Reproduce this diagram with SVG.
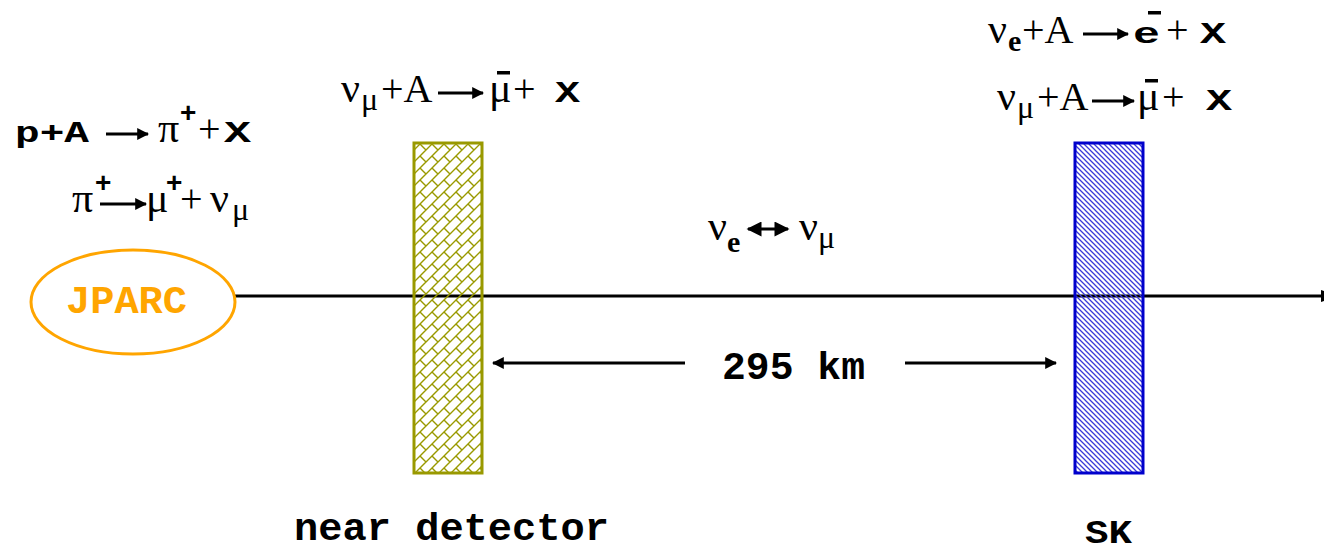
<svg xmlns="http://www.w3.org/2000/svg" width="1324" height="553" viewBox="0 0 1324 553">
<style>
.m{font-family:"Liberation Mono","Courier New",monospace;font-weight:bold;fill:#000}
.s{font-family:"Liberation Serif","Times New Roman",serif;fill:#000}
.pl{font-family:"Liberation Serif","Times New Roman",serif;fill:#000;font-size:40px}
.g{font-family:"Liberation Serif","Times New Roman",serif;fill:#000;font-size:42px}
.sub{font-family:"Liberation Serif","Times New Roman",serif;fill:#000;font-size:32px}
.sp{font-family:"Liberation Sans",Arial,sans-serif;font-weight:bold;fill:#000;font-size:28px}
.b{font-weight:bold}
.ar{stroke:#000;stroke-width:3;fill:none}
</style>
<defs>
<marker id="ah" viewBox="0 0 10 10" refX="9" refY="5" markerWidth="4" markerHeight="4" orient="auto" markerUnits="strokeWidth"><path d="M0,0 L10,5 L0,10 z" fill="#000"/></marker>
<marker id="ahs" viewBox="0 0 10 10" refX="9" refY="5" markerWidth="6" markerHeight="5" orient="auto-start-reverse" markerUnits="strokeWidth"><path d="M0,0 L10,5 L0,10 z" fill="#000"/></marker>
<pattern id="brick" patternUnits="userSpaceOnUse" width="12" height="12">
<path d="M0,12 L12,0 M-1,1 L1,-1 M11,13 L13,11 M0,0 L6,6" stroke="#999900" stroke-width="1.4" fill="none"/>
</pattern>
<pattern id="diag" patternUnits="userSpaceOnUse" width="5" height="5">
<path d="M0,0 L5,5 M-1,4 L1,6 M4,-1 L6,1" stroke="#3a3ad8" stroke-width="1.3" fill="none"/>
</pattern>
</defs>

<g id="connectors">
<line x1="235" y1="296" x2="1321" y2="296" stroke="#000" stroke-width="3"/>
<path d="M1321,290 L1340,296 L1321,302 z" fill="#000"/>
<line class="ar" x1="685" y1="363" x2="493" y2="363" stroke-width="2.5" marker-end="url(#ah)"/>
<line class="ar" x1="905" y1="363" x2="1056" y2="363" stroke-width="2.5" marker-end="url(#ah)"/>
</g>

<g id="jparc">
<ellipse cx="133" cy="302" rx="102" ry="52" fill="none" stroke="#ffa500" stroke-width="3"/>
<text class="m" x="66" y="313" font-size="38" style="fill:#ffa500" textLength="121" lengthAdjust="spacingAndGlyphs">JPARC</text>
</g>

<g id="near-detector">
<rect x="414" y="143" width="68" height="330" fill="url(#brick)" stroke="#999900" stroke-width="3"/>
<text class="m" x="294" y="540" font-size="38" textLength="315" lengthAdjust="spacingAndGlyphs">near detector</text>
</g>

<g id="sk">
<rect x="1075" y="143" width="68" height="330" fill="url(#diag)" stroke="#0000cc" stroke-width="3"/>
<text class="m" x="1085" y="543" font-size="34" textLength="47" lengthAdjust="spacingAndGlyphs">SK</text>
</g>

<g id="distance">
<text class="m" x="722" y="379" font-size="38" textLength="143" lengthAdjust="spacingAndGlyphs">295 km</text>
</g>

<g id="production">
<text class="m" x="15" y="142" font-size="30" textLength="74" lengthAdjust="spacingAndGlyphs">p+A</text>
<line class="ar" x1="106" y1="134" x2="148" y2="134" marker-end="url(#ah)"/>
<text class="g" x="158" y="142">π</text>
<text class="sp" x="180" y="122">+</text>
<text class="pl" x="198" y="142">+</text>
<text class="m" x="224" y="142" font-size="30" textLength="27" lengthAdjust="spacingAndGlyphs">X</text>

<text class="g" x="72" y="212">π</text>
<text class="sp" x="95" y="192">+</text>
<line class="ar" x1="100" y1="204" x2="146" y2="204" marker-end="url(#ah)"/>
<text class="g" x="146" y="212">μ</text>
<text class="sp" x="166" y="192">+</text>
<text class="pl" x="180" y="212">+</text>
<text class="g" x="210" y="212">ν</text>
<text class="sub" x="232" y="220">μ</text>
</g>

<g id="near-reaction">
<text class="g" x="341" y="102">ν</text>
<text class="sub" x="361" y="110">μ</text>
<text class="pl" x="381" y="102">+A</text>
<line class="ar" x1="438" y1="93" x2="483" y2="93" marker-end="url(#ah)"/>
<text class="g" x="489" y="102">μ</text>
<rect x="497" y="71" width="13" height="3.5" fill="#000"/>
<text class="pl" x="513" y="102">+</text>
<text class="m" x="555" y="102" font-size="30" textLength="25" lengthAdjust="spacingAndGlyphs">X</text>
</g>

<g id="oscillation">
<text class="g" x="708" y="240">ν</text>
<text class="s b" x="727" y="252" font-size="30">e</text>
<line class="ar" x1="748" y1="229" x2="788" y2="229" marker-start="url(#ahs)" marker-end="url(#ahs)" stroke-width="2.5"/>
<text class="g" x="799" y="240">ν</text>
<text class="sub" x="818" y="248">μ</text>
</g>

<g id="far-reaction">
<text class="g" x="988" y="43">ν</text>
<text class="s b" x="1008" y="51" font-size="30">e</text>
<text class="pl" x="1022" y="43">+A</text>
<line class="ar" x1="1083" y1="34" x2="1128" y2="34" marker-end="url(#ah)"/>
<text class="m" x="1133" y="43" font-size="30" textLength="27" lengthAdjust="spacingAndGlyphs">e</text>
<rect x="1148" y="11" width="13" height="3.5" fill="#000"/>
<text class="pl" x="1166" y="43">+</text>
<text class="m" x="1200" y="43" font-size="30" textLength="26" lengthAdjust="spacingAndGlyphs">X</text>

<text class="g" x="997" y="110">ν</text>
<text class="sub" x="1017" y="118">μ</text>
<text class="pl" x="1037" y="110">+A</text>
<line class="ar" x1="1092" y1="101" x2="1134" y2="101" marker-end="url(#ah)"/>
<text class="g" x="1137" y="110">μ</text>
<rect x="1145" y="79" width="13" height="3.5" fill="#000"/>
<text class="pl" x="1162" y="110">+</text>
<text class="m" x="1206" y="110" font-size="30" textLength="26" lengthAdjust="spacingAndGlyphs">X</text>
</g>
</svg>
